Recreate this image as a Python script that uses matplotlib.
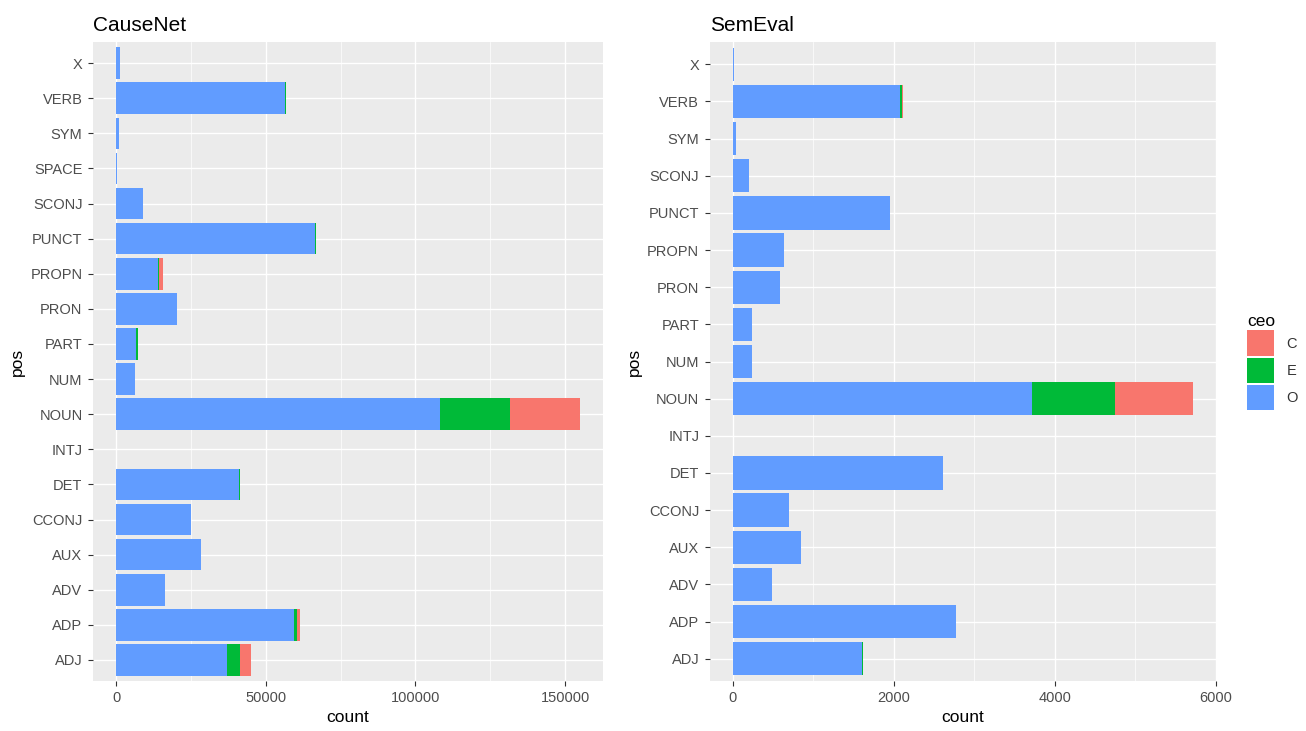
import matplotlib.pyplot as plt
from matplotlib.patches import Patch
from matplotlib.ticker import MultipleLocator
import numpy as np

# --- datos ---
pos_causenet = ["ADJ", "ADP", "ADV", "AUX", "CCONJ", "DET", "INTJ", "NOUN", "NUM",
                "PART", "PRON", "PROPN", "PUNCT", "SCONJ", "SPACE", "SYM", "VERB", "X"]
causenet_O = [37100, 59500, 16400, 28400, 24900, 41000, 100, 108100, 6400,
              6700, 20300, 13900, 66400, 9100, 400, 900, 56300, 1300]
causenet_E = [4200, 900, 0, 0, 0, 400, 0, 23500, 0,
              600, 0, 300, 200, 0, 0, 0, 600, 0]
causenet_C = [3600, 900, 0, 0, 0, 0, 0, 23300, 0,
              0, 0, 1400, 0, 0, 0, 0, 0, 0]

pos_semeval = ["ADJ", "ADP", "ADV", "AUX", "CCONJ", "DET", "INTJ", "NOUN", "NUM",
               "PART", "PRON", "PROPN", "PUNCT", "SCONJ", "SYM", "VERB", "X"]
semeval_O = [1600, 2775, 493, 846, 700, 2610, 2, 3715, 240,
             240, 590, 635, 1950, 206, 38, 2080, 20]
semeval_E = [15, 0, 0, 0, 0, 0, 0, 1025, 0,
             0, 0, 0, 0, 0, 0, 20, 0]
semeval_C = [0, 0, 0, 0, 0, 0, 0, 980, 0,
             0, 0, 0, 0, 0, 0, 20, 0]

colores = {"C": "#F8766D", "E": "#00BA38", "O": "#619CFF"}

plt.rcParams['font.family'] = ['Liberation Sans', 'DejaVu Sans']

fig = plt.figure(figsize=(13.06, 7.31), dpi=100)
ax1 = fig.add_axes([0.0712, 0.0684, 0.3905, 0.8741])
ax2 = fig.add_axes([0.5434, 0.0684, 0.3881, 0.8741])


def dibujar(ax, cats, O, E, C, titulo, paso_mayor):
    y = np.arange(len(cats))
    O = np.array(O); E = np.array(E); C = np.array(C)
    ax.barh(y, O, height=0.9, color=colores["O"], zorder=3)
    ax.barh(y, E, left=O, height=0.9, color=colores["E"], zorder=3)
    ax.barh(y, C, left=O + E, height=0.9, color=colores["C"], zorder=3)

    # expansión tipo ggplot (5% continuo, 0.6 discreto)
    total = (O + E + C).max()
    pad = total * 0.05
    ax.set_xlim(-pad, total + pad)
    ax.set_ylim(-0.6, len(cats) - 1 + 0.6)

    ax.set_yticks(y)
    ax.set_yticklabels(cats)
    ax.xaxis.set_major_locator(MultipleLocator(paso_mayor))
    ax.xaxis.set_minor_locator(MultipleLocator(paso_mayor / 2))

    # estilo ggplot
    ax.set_facecolor("#EBEBEB")
    for s in ax.spines.values():
        s.set_visible(False)
    ax.grid(True, which="major", color="white", linewidth=1.0, zorder=0)
    ax.grid(True, which="minor", axis="x", color="white", linewidth=0.5, zorder=0)
    ax.set_axisbelow(True)
    ax.tick_params(axis="both", which="major", colors="#333333", length=3.5,
                   width=0.8, labelsize=10.5, labelcolor="#4D4D4D", pad=4)
    ax.tick_params(axis="both", which="minor", length=0)

    ax.set_xlabel("count", fontsize=12.5, labelpad=3)
    ax.set_ylabel("pos", fontsize=12.5, labelpad=4)
    ax.set_title(titulo, loc="left", fontsize=15, pad=8)


dibujar(ax1, pos_causenet, causenet_O, causenet_E, causenet_C, "CauseNet", 50000)
dibujar(ax2, pos_semeval, semeval_O, semeval_E, semeval_C, "SemEval", 2000)

# leyenda
handles = [Patch(facecolor=colores[k], edgecolor="none", label=k) for k in ["C", "E", "O"]]
leg = fig.legend(handles=handles, title="ceo", loc="center left",
                 bbox_to_anchor=(0.9495, 0.505), frameon=False, fontsize=10.5,
                 title_fontsize=12.5, handlelength=1.85, handleheight=2.3,
                 labelspacing=0.12, handletextpad=0.85, borderpad=0)
leg._legend_box.align = "left"
for t in leg.get_texts():
    t.set_color("#333333")

fig.savefig("out.png", dpi=100)
